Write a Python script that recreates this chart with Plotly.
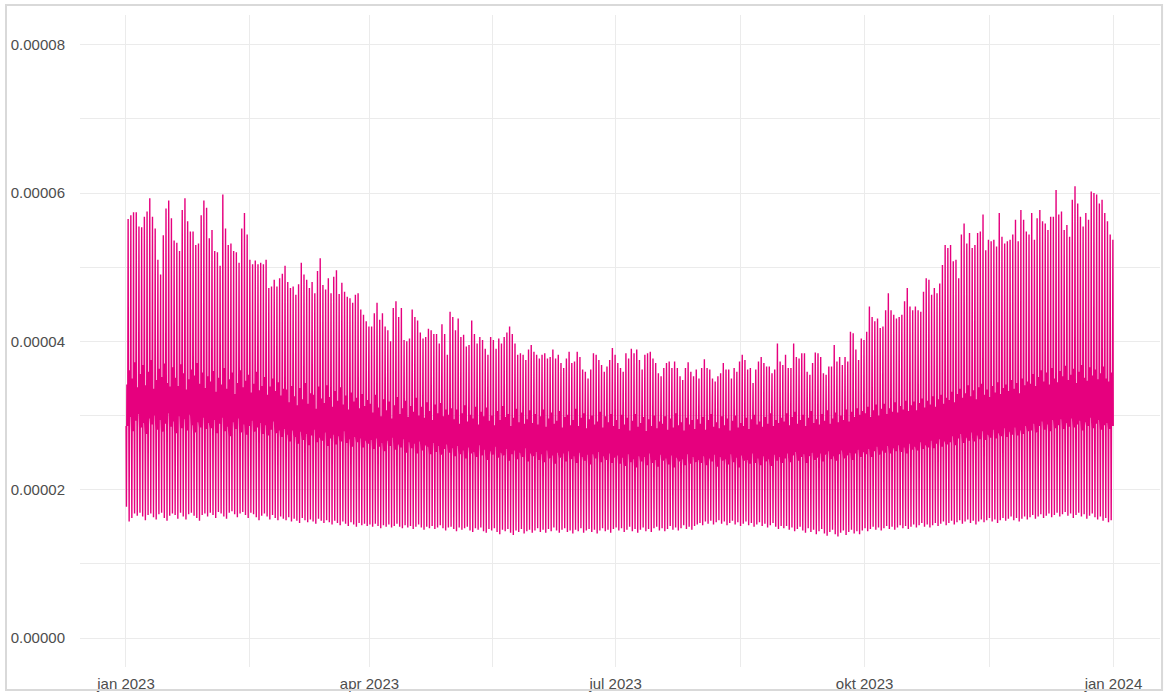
import pandas as pd
import plotly.graph_objects as go

# daily highest hourly value (in millionths)
peak_jan = [56.5, 57.0, 57.4, 57.4, 55.5, 55.4, 56.8, 57.5, 59.3, 56.8, 55.2, 51.0, 49.0, 54.3, 57.9, 59.0,
            56.6, 53.6, 53.3, 52.2, 57.7, 59.3, 56.2, 54.8, 54.8, 53.0, 53.2, 57.0, 59.0, 58.0, 53.9]
peak_feb = [55.0, 52.2, 52.0, 50.2, 59.8, 55.2, 53.0, 53.2, 52.2, 52.0, 50.6, 55.2, 57.3, 54.4, 51.0, 50.4,
            50.9, 50.4, 50.6, 50.4, 51.0, 47.2, 47.4, 48.3, 47.4, 48.5, 49.1, 50.2]
peak_mar = [48.0, 47.2, 47.4, 46.3, 47.7, 50.6, 49.0, 48.3, 47.2, 48.0, 46.5, 49.5, 51.2, 47.6, 47.0, 48.5,
            46.5, 48.7, 49.6, 46.4, 47.9, 46.7, 46.0, 45.8, 45.2, 46.3, 46.5, 44.3, 43.6, 42.7, 42.0]
peak_apr = [42.0, 43.8, 45.2, 42.9, 43.8, 42.0, 41.5, 40.0, 44.5, 45.4, 43.3, 44.5, 40.2, 40.0, 40.4, 44.3,
            43.3, 42.8, 41.2, 40.4, 40.6, 41.7, 41.5, 41.0, 41.0, 39.7, 42.3, 41.0, 38.2, 44.0]
peak_may = [43.3, 41.5, 43.1, 40.6, 40.9, 39.3, 39.5, 42.8, 41.0, 39.7, 40.6, 40.2, 39.0, 38.2, 40.6, 40.2,
            39.0, 40.4, 39.7, 40.6, 41.2, 42.0, 41.0, 39.7, 38.2, 38.4, 38.2, 37.5, 38.9, 39.5, 38.6]
peak_jun = [38.2, 37.7, 38.2, 38.4, 37.7, 37.9, 38.9, 37.7, 38.2, 37.1, 36.4, 37.7, 38.6, 37.1, 37.3, 38.6,
            37.9, 36.2, 35.9, 35.0, 36.2, 38.4, 38.2, 37.5, 36.8, 35.9, 36.6, 37.5, 39.1, 38.2]
peak_jul = [37.1, 36.4, 35.9, 38.4, 37.7, 39.0, 38.4, 38.9, 37.5, 36.2, 38.2, 38.4, 38.6, 37.7, 37.1, 35.7,
            35.3, 36.4, 37.1, 37.3, 36.4, 37.3, 36.4, 35.3, 34.8, 36.4, 37.2, 35.9, 35.3, 36.2, 35.0]
peak_aug = [36.4, 37.6, 36.4, 36.2, 35.0, 34.6, 35.3, 35.7, 37.1, 36.2, 36.2, 35.0, 36.4, 35.9, 37.3, 38.2,
            37.5, 36.2, 36.4, 34.4, 36.2, 37.3, 37.9, 37.1, 36.6, 36.6, 35.7, 36.2, 39.7, 37.3, 36.8]
peak_sep = [38.2, 36.4, 36.4, 39.7, 37.9, 37.7, 38.4, 38.4, 35.9, 35.5, 37.1, 38.5, 38.4, 37.9, 35.7, 35.5,
            36.6, 36.6, 39.5, 37.3, 37.9, 36.8, 37.9, 37.3, 41.3, 41.1, 38.9, 37.5, 40.4, 40.2]
peak_oct = [41.3, 44.7, 43.3, 42.7, 43.1, 41.8, 42.0, 44.2, 46.5, 44.2, 43.6, 43.1, 43.3, 43.6, 45.4, 47.2,
            44.7, 44.2, 44.7, 44.2, 44.0, 46.7, 48.5, 48.3, 46.3, 47.2, 46.5, 47.8, 50.3, 53.0, 52.6]
peak_nov = [53.0, 50.8, 51.0, 48.5, 54.4, 55.9, 53.2, 54.6, 52.6, 53.0, 54.6, 54.8, 57.1, 52.3, 53.7, 53.5,
            53.7, 52.8, 57.3, 54.1, 53.2, 53.5, 53.7, 54.4, 56.4, 53.5, 57.7, 56.4, 54.8, 54.4]
peak_dec = [57.3, 53.7, 56.6, 57.7, 56.2, 55.9, 55.0, 56.8, 56.8, 60.4, 57.1, 57.5, 55.0, 55.7, 54.1, 59.1,
            60.9, 58.6, 56.8, 55.5, 57.3, 56.4, 60.2, 60.0, 59.8, 58.6, 59.1, 57.3, 56.2, 54.4, 53.7]

# daily lowest hourly value (in millionths)
low_jan = [17.7, 15.7, 16.2, 16.8, 16.5, 16.9, 16.4, 15.9, 16.6, 16.8, 16.3, 16.0, 16.7, 16.9, 16.2, 15.8,
           16.5, 16.8, 16.6, 16.1, 16.9, 16.4, 16.0, 16.7, 16.9, 16.5, 16.2, 15.8, 16.6, 16.8, 16.4]
low_feb = [16.9, 16.6, 16.2, 17.0, 16.8, 16.4, 16.1, 16.9, 17.1, 16.7, 16.3, 16.8, 17.0, 16.6, 16.2, 16.9,
           16.7, 16.3, 15.9, 16.5, 16.8, 16.4, 16.0, 16.6, 16.2, 15.9, 16.4, 16.1]
low_mar = [15.9, 16.3, 15.7, 16.1, 15.8, 15.5, 16.2, 15.9, 15.6, 16.0, 15.7, 15.4, 16.1, 15.8, 15.5, 15.9,
           15.6, 15.3, 15.8, 15.5, 15.2, 15.7, 15.4, 15.1, 15.6, 15.3, 15.0, 15.5, 15.2, 15.4, 15.1]
low_apr = [15.3, 15.0, 15.4, 15.1, 14.8, 15.2, 15.0, 15.3, 14.9, 15.1, 15.4, 15.0, 14.8, 15.2, 14.9, 15.1,
           14.7, 15.0, 15.3, 14.9, 14.6, 15.0, 14.8, 15.1, 14.7, 14.9, 15.2, 14.8, 14.5, 14.9]
low_may = [15.0, 14.7, 14.4, 14.9, 14.6, 14.8, 15.0, 14.5, 14.3, 14.8, 14.6, 14.9, 14.4, 14.2, 14.7, 14.5,
           14.8, 14.3, 14.0, 14.6, 14.4, 14.7, 14.2, 13.9, 14.5, 14.3, 14.7, 14.1, 14.4, 14.6, 14.2]
low_jun = [14.5, 14.8, 14.3, 14.6, 14.2, 14.7, 14.4, 14.9, 14.5, 14.2, 14.6, 14.8, 14.3, 14.5, 14.1, 14.6,
           14.4, 14.8, 14.2, 14.5, 14.7, 14.3, 14.6, 14.1, 14.5, 14.8, 14.4, 14.6, 14.2, 14.7]
low_jul = [14.9, 14.5, 14.8, 14.3, 14.6, 15.0, 14.4, 14.7, 14.2, 14.6, 14.9, 14.4, 14.7, 14.3, 14.8, 15.0,
           14.5, 14.8, 14.4, 14.7, 15.1, 14.6, 14.9, 14.5, 14.8, 15.2, 14.7, 15.0, 14.6, 15.1, 15.3]
low_aug = [15.5, 15.2, 15.7, 15.4, 15.8, 15.3, 15.6, 15.9, 15.4, 15.7, 15.2, 15.5, 15.8, 15.3, 15.6, 15.1,
           15.4, 15.7, 15.2, 15.5, 15.0, 15.3, 15.6, 15.1, 15.4, 14.9, 15.2, 15.5, 15.0, 14.7, 15.1]
low_sep = [14.8, 15.1, 14.6, 14.9, 14.4, 14.7, 15.0, 14.5, 14.2, 14.8, 14.3, 14.6, 14.0, 14.4, 14.7, 14.1,
           13.8, 14.3, 14.6, 14.0, 13.7, 14.2, 14.5, 13.9, 14.3, 14.6, 14.1, 14.4, 14.0, 14.5]
low_oct = [14.8, 14.4, 14.7, 15.0, 14.6, 14.9, 14.5, 14.8, 15.1, 14.7, 15.0, 14.6, 14.9, 15.2, 14.8, 15.1,
           14.7, 15.0, 15.3, 14.9, 15.2, 15.5, 15.0, 15.3, 14.9, 15.2, 15.5, 15.1, 15.4, 15.7, 15.2]
low_nov = [15.5, 15.8, 15.3, 15.6, 15.9, 15.4, 15.7, 16.0, 15.5, 15.8, 15.3, 15.7, 16.0, 15.6, 15.9, 16.2,
           15.7, 16.0, 15.5, 15.9, 16.2, 15.8, 16.1, 16.4, 15.9, 16.2, 15.7, 16.1, 16.4, 16.0]
low_dec = [16.3, 16.6, 16.1, 16.4, 16.7, 16.2, 16.5, 16.8, 16.3, 16.6, 16.9, 16.4, 16.7, 17.0, 16.5, 16.8,
           16.2, 16.6, 16.9, 16.4, 16.7, 16.1, 16.5, 16.8, 16.3, 16.0, 16.4, 15.8, 16.2, 15.6, 15.9]

# daytime level, upper side of the dense band (millionths)
mid_hi_jan = [34.2, 36.1, 35.0, 37.2, 33.8, 35.6, 36.8, 34.1, 35.9, 37.5, 33.6, 34.8, 36.3, 35.2, 37.0, 34.4,
              33.9, 36.5, 35.1, 34.0, 36.9, 35.7, 33.5, 34.9, 36.2, 35.4, 37.1, 34.3, 35.8, 33.7, 35.3]
mid_hi_feb = [34.6, 36.0, 33.2, 35.1, 34.2, 36.4, 33.6, 34.9, 35.8, 32.9, 34.4, 36.1, 33.8, 34.7, 35.5, 33.1,
              34.3, 35.9, 33.4, 34.0, 35.2, 32.8, 33.9, 35.0, 33.3, 34.5, 32.7, 33.6]
mid_hi_mar = [33.5, 31.8, 34.0, 32.6, 31.4, 33.7, 32.2, 34.4, 31.6, 33.0, 32.8, 30.9, 33.9, 32.3, 31.7, 34.1,
              32.5, 31.2, 33.3, 32.0, 33.8, 31.5, 32.7, 30.8, 33.1, 31.9, 32.4, 31.0, 32.9, 31.3, 32.1]
mid_hi_apr = [31.6, 30.4, 32.8, 31.1, 29.9, 32.2, 30.7, 31.9, 29.6, 31.4, 32.5, 30.2, 31.0, 32.0, 29.8, 31.3,
              30.5, 32.4, 30.0, 31.2, 29.7, 31.8, 30.6, 29.4, 31.5, 30.3, 31.7, 29.9, 30.8, 30.1]
mid_hi_may = [31.0, 29.5, 30.8, 28.9, 30.3, 31.4, 29.2, 30.1, 29.6, 31.2, 28.8, 30.5, 29.9, 31.1, 29.3, 30.0,
              28.7, 30.6, 29.4, 31.3, 29.8, 30.2, 28.6, 29.7, 30.9, 29.1, 30.4, 28.9, 29.5, 30.7, 29.0]
mid_hi_jun = [30.2, 28.8, 29.9, 30.8, 28.5, 29.6, 30.4, 28.9, 29.3, 30.6, 28.4, 29.8, 30.1, 28.7, 29.4, 30.9,
              28.6, 29.7, 30.3, 28.3, 29.5, 30.0, 28.8, 29.2, 30.5, 28.4, 29.9, 29.1, 30.2, 28.6]
mid_hi_jul = [29.4, 28.2, 30.1, 28.8, 29.7, 28.0, 29.3, 30.2, 28.5, 29.0, 29.8, 27.9, 29.5, 28.6, 30.0, 28.3,
              29.2, 28.9, 29.9, 28.1, 29.6, 28.4, 30.3, 28.7, 29.1, 28.0, 29.7, 28.8, 29.4, 28.2, 29.5]
mid_hi_aug = [28.9, 29.8, 28.1, 29.4, 30.2, 28.5, 29.1, 28.3, 29.9, 28.7, 29.6, 28.0, 29.3, 30.0, 28.4, 29.0,
              28.6, 29.7, 28.2, 29.5, 30.1, 28.8, 29.2, 28.5, 29.8, 28.9, 30.3, 28.6, 29.4, 29.0, 29.7]
mid_hi_sep = [29.2, 30.3, 28.7, 29.8, 30.5, 28.9, 29.4, 30.1, 28.6, 29.7, 30.6, 29.0, 29.5, 28.8, 30.2, 29.3,
              30.7, 28.9, 29.6, 30.4, 29.1, 30.0, 29.4, 30.8, 29.2, 30.5, 29.8, 31.0, 30.1, 30.6]
mid_hi_oct = [30.3, 31.2, 29.8, 30.7, 31.5, 30.0, 30.9, 31.6, 30.2, 31.0, 30.5, 31.8, 30.4, 31.3, 30.8, 32.0,
              30.6, 31.4, 31.9, 30.7, 31.7, 32.3, 31.1, 32.0, 31.5, 32.6, 31.2, 32.2, 32.8, 31.6, 32.4]
mid_hi_nov = [32.1, 33.2, 31.8, 32.9, 33.6, 32.4, 33.0, 34.1, 32.6, 33.4, 32.2, 33.8, 34.3, 32.8, 33.5, 32.5,
              34.0, 33.1, 34.5, 32.9, 33.7, 34.2, 33.3, 34.8, 33.6, 34.4, 33.0, 35.0, 34.1, 34.6]
mid_hi_dec = [34.3, 35.6, 34.0, 35.2, 36.1, 34.6, 35.8, 34.2, 36.4, 35.0, 34.5, 36.0, 35.3, 36.7, 34.8, 35.5,
              36.3, 34.4, 35.9, 36.8, 35.1, 34.7, 36.5, 35.4, 36.2, 34.9, 35.7, 36.6, 35.0, 34.6, 35.8]

# daytime level, lower side of the dense band (millionths)
mid_lo_jan = [28.6, 29.8, 27.9, 29.3, 30.2, 28.4, 29.0, 27.5, 29.6, 28.8, 30.0, 28.1, 29.4, 27.8, 28.9, 30.3,
              28.5, 29.2, 27.6, 29.9, 28.3, 29.5, 28.0, 30.1, 28.7, 27.7, 29.1, 28.4, 29.7, 28.2, 29.0]
mid_lo_feb = [28.3, 29.4, 27.6, 28.9, 29.7, 27.9, 28.5, 27.2, 29.1, 28.2, 29.6, 27.7, 28.8, 27.4, 28.6, 29.3,
              27.8, 28.4, 29.0, 27.5, 28.7, 27.3, 28.1, 29.2, 27.6, 28.0, 27.1, 28.2]
mid_lo_mar = [27.4, 26.5, 28.0, 27.1, 26.2, 27.8, 26.7, 27.5, 26.0, 27.3, 28.1, 26.4, 27.0, 26.6, 27.7, 25.9,
              26.9, 27.4, 26.1, 27.2, 26.5, 27.9, 26.3, 26.8, 25.8, 27.1, 26.4, 26.9, 25.7, 26.6, 26.2]
mid_lo_apr = [26.7, 25.5, 26.9, 25.8, 26.3, 25.2, 26.6, 25.9, 27.0, 25.4, 26.1, 25.7, 26.8, 25.0, 26.4, 25.6,
              26.2, 24.9, 26.5, 25.3, 26.0, 25.8, 24.8, 26.3, 25.1, 25.9, 24.7, 25.5, 26.1, 25.0]
mid_lo_may = [25.6, 24.5, 25.9, 24.8, 25.3, 24.2, 25.7, 24.9, 25.1, 24.4, 26.0, 24.6, 25.4, 24.0, 25.2, 24.7,
              25.8, 24.3, 25.0, 24.6, 25.5, 23.9, 24.8, 25.3, 24.1, 25.0, 24.4, 25.6, 23.8, 24.9, 24.5]
mid_lo_jun = [25.1, 24.0, 24.8, 23.7, 25.3, 24.2, 24.6, 23.5, 25.0, 24.3, 24.9, 23.8, 25.2, 24.1, 24.5, 23.6,
              25.0, 24.4, 23.9, 24.7, 23.4, 24.8, 24.2, 25.1, 23.7, 24.5, 24.0, 24.9, 23.6, 24.3]
mid_lo_jul = [24.6, 23.5, 24.3, 23.2, 24.8, 23.7, 24.1, 23.0, 24.5, 23.8, 24.4, 23.3, 24.9, 23.6, 24.0, 23.1,
              24.7, 23.9, 24.2, 23.4, 24.6, 23.0, 24.3, 23.8, 24.1, 23.3, 24.8, 23.5, 24.4, 23.7, 24.0]
mid_lo_aug = [23.6, 24.5, 23.3, 24.2, 23.8, 24.7, 23.1, 24.4, 23.9, 24.1, 23.4, 24.8, 23.7, 24.3, 23.0, 24.6,
              23.9, 24.0, 23.5, 24.9, 23.6, 24.2, 23.3, 24.5, 23.8, 24.1, 23.2, 24.7, 23.9, 24.4, 23.6]
mid_lo_sep = [24.2, 24.9, 23.7, 24.6, 25.1, 23.9, 24.4, 24.8, 23.6, 24.5, 25.0, 24.0, 24.3, 24.9, 23.8, 24.7,
              25.2, 24.1, 24.5, 23.9, 24.8, 25.3, 24.2, 24.6, 25.0, 24.0, 24.9, 25.4, 24.4, 25.1]
mid_lo_oct = [24.8, 25.5, 24.4, 25.2, 25.8, 24.7, 25.3, 25.0, 25.9, 24.9, 25.6, 25.2, 26.0, 25.1, 25.7, 24.9,
              26.2, 25.4, 25.8, 25.3, 26.4, 25.5, 26.0, 25.7, 26.6, 25.6, 26.2, 26.8, 25.8, 26.5, 26.1]
mid_lo_nov = [26.4, 27.2, 26.0, 26.9, 27.5, 26.3, 27.0, 26.6, 27.7, 26.5, 27.3, 26.8, 27.9, 26.7, 27.4, 27.0,
              28.1, 26.9, 27.6, 27.2, 28.3, 27.1, 27.8, 27.4, 28.4, 27.3, 28.0, 27.5, 28.6, 27.9]
mid_lo_dec = [28.0, 28.9, 27.7, 28.6, 29.2, 28.1, 28.8, 27.9, 29.4, 28.3, 28.7, 29.5, 28.2, 29.0, 28.5, 29.6,
              28.4, 28.8, 29.3, 28.0, 29.1, 28.6, 29.7, 28.3, 28.9, 29.4, 28.1, 28.7, 29.0, 28.2, 28.6]

daily_peak = (peak_jan + peak_feb + peak_mar + peak_apr + peak_may + peak_jun +
              peak_jul + peak_aug + peak_sep + peak_oct + peak_nov + peak_dec)
daily_low = (low_jan + low_feb + low_mar + low_apr + low_may + low_jun +
             low_jul + low_aug + low_sep + low_oct + low_nov + low_dec)
daily_mid_hi = (mid_hi_jan + mid_hi_feb + mid_hi_mar + mid_hi_apr + mid_hi_may + mid_hi_jun +
                mid_hi_jul + mid_hi_aug + mid_hi_sep + mid_hi_oct + mid_hi_nov + mid_hi_dec)
daily_mid_lo = (mid_lo_jan + mid_lo_feb + mid_lo_mar + mid_lo_apr + mid_lo_may + mid_lo_jun +
                mid_lo_jul + mid_lo_aug + mid_lo_sep + mid_lo_oct + mid_lo_nov + mid_lo_dec)

tick_dates = ["2023-01-01", "2023-04-01", "2023-07-01", "2023-10-01", "2024-01-01"]
tick_labels = ["jan 2023", "apr 2023", "jul 2023", "okt 2023", "jan 2024"]
minor_dates = ["2023-02-15 12:00", "2023-05-16 12:00", "2023-08-16", "2023-11-16"]
y_ticks = [0, 0.00002, 0.00004, 0.00006, 0.00008]

# one day of values: night low, daytime band, evening peak
n_days = min(len(daily_peak), len(daily_low), len(daily_mid_hi), len(daily_mid_lo))
days = pd.date_range("2023-01-01", periods=n_days, freq="D")
x, y = [], []
for day, low, hi, lo, peak in zip(days, daily_low, daily_mid_hi, daily_mid_lo, daily_peak):
    for hour, val in ((1, lo), (4, low), (8, hi), (12, lo), (16, hi), (19, peak), (22, lo)):
        x.append(day + pd.Timedelta(hours=hour))
        y.append(val * 1e-6)

fig = go.Figure(go.Scatter(x=x, y=y, mode="lines",
                           line=dict(color="#E6007E", width=1.4), hoverinfo="x+y"))

grid = "#ebebeb"
clear = "rgba(0,0,0,0)"
fig.update_layout(
    width=1167, height=695,
    margin=dict(l=80, r=7, t=15, b=28),
    paper_bgcolor="white", plot_bgcolor="white",
    showlegend=False,
    font=dict(family="Liberation Sans, Arial, sans-serif", size=15, color="#4d4d4d"),
    # invisible ticks only push the labels away from the panel
    xaxis=dict(type="date", range=["2022-12-15", "2024-01-18 05:00"], automargin=False,
               tickvals=tick_dates, ticktext=tick_labels,
               ticks="outside", ticklen=3, tickcolor=clear,
               showgrid=True, gridcolor=grid, gridwidth=1, zeroline=False, showline=False,
               minor=dict(tickvals=minor_dates, showgrid=True, gridcolor=grid, gridwidth=1)),
    yaxis=dict(range=[-0.0000039, 0.0000840], tickvals=y_ticks, tickformat=".5f", automargin=False,
               ticks="outside", ticklen=11, tickcolor=clear,
               showgrid=True, gridcolor=grid, gridwidth=1, zeroline=False, showline=False,
               minor=dict(dtick=0.00001, showgrid=True, gridcolor=grid, gridwidth=1)),
    shapes=[dict(type="rect", xref="paper", yref="paper",
                 x0=-0.0685, x1=1.0019, y0=-0.0353, y1=1.0153,
                 line=dict(color="#d9d9d9", width=2), layer="above")],
)

# drop the page margin so the figure sits at the window's corner
fig.write_html("out.html", config={"displayModeBar": False},
               post_script="document.body.style.margin = '0px';")
